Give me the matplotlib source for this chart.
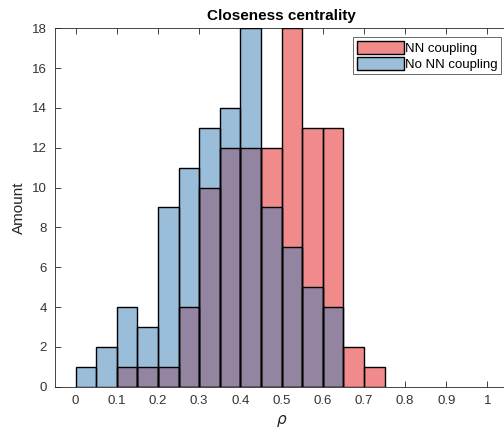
import numpy as np
import matplotlib
matplotlib.use("Agg")
import matplotlib.pyplot as plt
from matplotlib.patches import Patch

plt.rcParams['font.family'] = ['Liberation Sans', 'DejaVu Sans']

# Histogram bins (width 0.05) and counts per bin
bin_edges = np.round(np.arange(0.0, 0.80, 0.05), 2)
counts_nn = [0, 0, 1, 1, 1, 4, 10, 12, 12, 12, 18, 13, 13, 2, 1]
counts_no_nn = [1, 2, 4, 3, 9, 11, 13, 14, 18, 9, 7, 5, 4, 0, 0]
series_labels = ["NN coupling", "No NN coupling"]
x_ticks = [0, 0.1, 0.2, 0.3, 0.4, 0.5, 0.6, 0.7, 0.8, 0.9, 1]
x_tick_labels = ["0", "0.1", "0.2", "0.3", "0.4", "0.5", "0.6", "0.7", "0.8", "0.9", "1"]
y_ticks = list(range(0, 19, 2))

red_face = (0.945, 0.545, 0.545)
blue_face = (0.216, 0.498, 0.718)
blue_alpha = 0.5

fig = plt.figure(figsize=(5.04, 4.34), dpi=100)
ax = fig.add_axes([0.1091, 0.109, 0.899, 0.8258])

left = bin_edges[:-1]
widths = np.diff(bin_edges)

def draw_bars(counts, face, alpha):
    for x0, w, c in zip(left, widths, counts):
        if c <= 0:
            continue
        ax.bar(x0, c, width=w, align='edge', color=face, alpha=alpha,
               edgecolor='none', linewidth=0, zorder=2)
        ax.bar(x0, c, width=w, align='edge', fill=False,
               edgecolor='black', linewidth=1.0, zorder=3)

draw_bars(counts_nn, red_face, 1.0)
draw_bars(counts_no_nn, blue_face, blue_alpha)

ax.set_xlim(-0.05, 1.05)
ax.set_ylim(0, 18)
ax.set_xticks(x_ticks)
ax.set_xticklabels(x_tick_labels)
ax.set_yticks(y_ticks)

for side in ['left', 'bottom', 'top', 'right']:
    ax.spines[side].set_color('#262626')
    ax.spines[side].set_linewidth(0.6)
ax.spines['right'].set_visible(False)
ax.tick_params(direction='in', length=4, width=0.6, color='#262626',
               labelcolor='#333333', labelsize=9.5, top=True, right=False, pad=6)

ax.set_title("Closeness centrality", fontsize=11, fontweight='bold', pad=6)
ax.set_xlabel(r"$\rho$", fontsize=11, color='#262626')
ax.set_ylabel("Amount", fontsize=11, color='#262626')

handles = [Patch(facecolor=red_face, edgecolor='black', linewidth=1.0),
           Patch(facecolor=(0.608, 0.749, 0.859), edgecolor='black', linewidth=1.0)]
leg = ax.legend(handles, series_labels, loc='upper right',
                bbox_to_anchor=(0.985, 0.975), fontsize=9.5, frameon=True,
                fancybox=False, handlelength=3.6, handleheight=1.2,
                handletextpad=0.1, borderpad=0.25, labelspacing=0.15,
                borderaxespad=0)
leg.get_frame().set_edgecolor('#262626')
leg.get_frame().set_linewidth(0.6)

fig.savefig("out.png", dpi=100)
